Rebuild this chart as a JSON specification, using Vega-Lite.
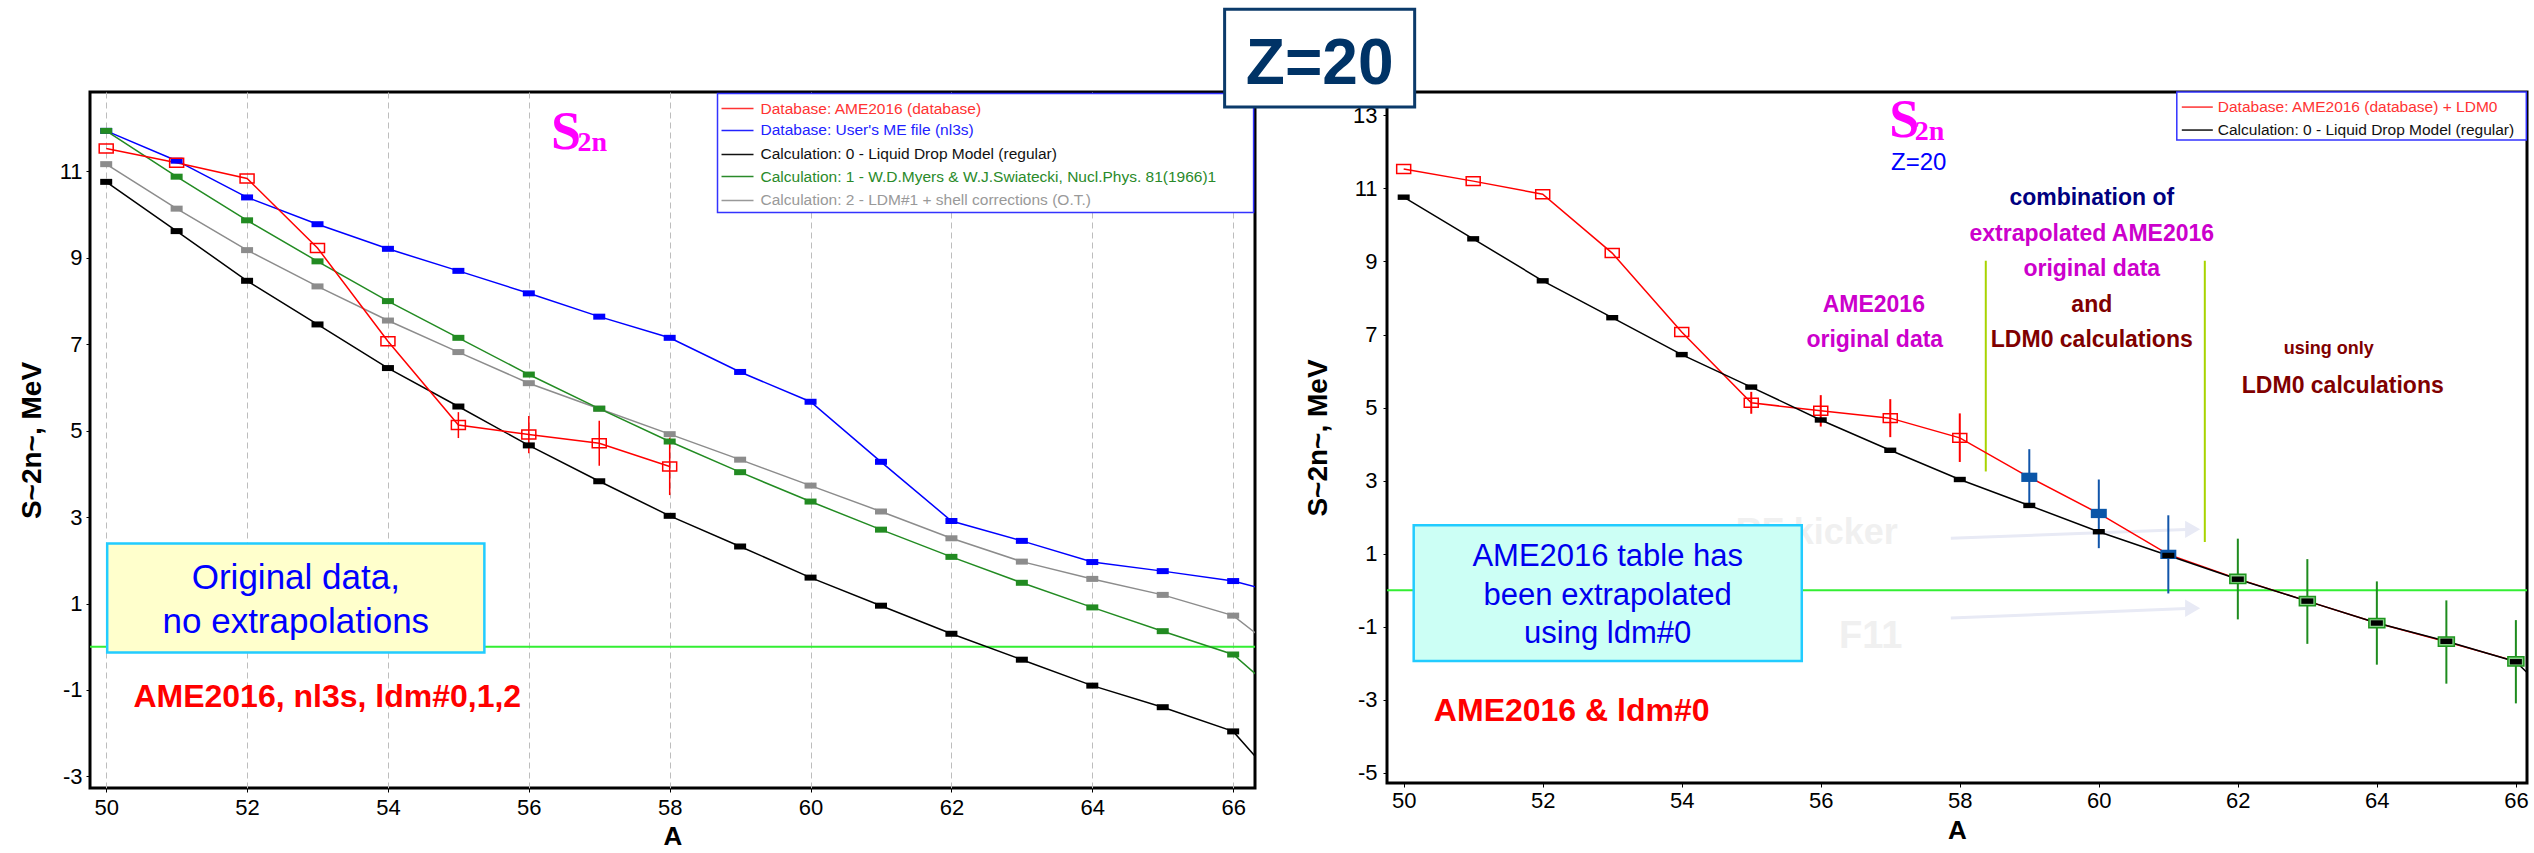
{
  "$schema": "https://vega.github.io/schema/vega-lite/v6.json",
  "background": "white",
  "padding": {"left": 16, "top": 6, "right": 0, "bottom": 0},
  "bounds": "flush",
  "spacing": 132,
  "resolve": {"scale": {"color": "independent"}},
  "config": {
    "view": {"stroke": "black", "strokeWidth": 3},
    "axis": {"domain": false, "tickColor": "black", "tickSize": 4, "labelFont": "Liberation Sans, Arial, sans-serif", "labelFontSize": 22, "labelColor": "black", "labelExpr": "'' + datum.value", "titleFont": "Liberation Sans, Arial, sans-serif", "titleFontWeight": "bold", "titleColor": "black", "gridColor": "#bdbdbd", "gridWidth": 1},
    "axisX": {"gridDash": [6, 4], "titleFontSize": 26},
    "axisY": {"gridDash": [2, 2], "titleFontSize": 28}
  },
  "datasets": {
    "ame": [
      {"A": 50, "S": 11.53, "k": "orig"},
      {"A": 51, "S": 11.20, "k": "orig"},
      {"A": 52, "S": 10.84, "k": "orig"},
      {"A": 53, "S": 9.23, "k": "orig"},
      {"A": 54, "S": 7.07, "k": "orig"},
      {"A": 55, "S": 5.13, "k": "orig", "lo": 4.83, "hi": 5.43},
      {"A": 56, "S": 4.91, "k": "orig", "lo": 4.48, "hi": 5.34},
      {"A": 57, "S": 4.71, "k": "orig", "lo": 4.19, "hi": 5.23},
      {"A": 58, "S": 4.17, "k": "orig", "lo": 3.51, "hi": 4.84},
      {"A": 59, "S": 3.09, "k": "extr", "lo": 2.33, "hi": 3.86},
      {"A": 60, "S": 2.10, "k": "extr", "lo": 1.15, "hi": 3.03},
      {"A": 61, "S": 0.98, "k": "extr", "lo": -0.09, "hi": 2.05},
      {"A": 62, "S": 0.31, "k": "ldm", "lo": -0.80, "hi": 1.41},
      {"A": 63, "S": -0.30, "k": "ldm", "lo": -1.47, "hi": 0.85},
      {"A": 64, "S": -0.90, "k": "ldm", "lo": -2.04, "hi": 0.24},
      {"A": 65, "S": -1.41, "k": "ldm", "lo": -2.56, "hi": -0.28},
      {"A": 66, "S": -1.95, "k": "ldm", "lo": -3.10, "hi": -0.82}
    ],
    "calc": [
      {"m": "nl3s", "A": 50, "S": 11.94}, {"m": "nl3s", "A": 51, "S": 11.25}, {"m": "nl3s", "A": 52, "S": 10.40}, {"m": "nl3s", "A": 53, "S": 9.78}, {"m": "nl3s", "A": 54, "S": 9.21}, {"m": "nl3s", "A": 55, "S": 8.70}, {"m": "nl3s", "A": 56, "S": 8.18}, {"m": "nl3s", "A": 57, "S": 7.64}, {"m": "nl3s", "A": 58, "S": 7.15}, {"m": "nl3s", "A": 59, "S": 6.36}, {"m": "nl3s", "A": 60, "S": 5.67}, {"m": "nl3s", "A": 61, "S": 4.28}, {"m": "nl3s", "A": 62, "S": 2.91}, {"m": "nl3s", "A": 63, "S": 2.45}, {"m": "nl3s", "A": 64, "S": 1.96}, {"m": "nl3s", "A": 65, "S": 1.75}, {"m": "nl3s", "A": 66, "S": 1.52}, {"m": "nl3s", "A": 67, "S": 1.10},
      {"m": "ldm2", "A": 50, "S": 11.17}, {"m": "ldm2", "A": 51, "S": 10.14}, {"m": "ldm2", "A": 52, "S": 9.18}, {"m": "ldm2", "A": 53, "S": 8.34}, {"m": "ldm2", "A": 54, "S": 7.55}, {"m": "ldm2", "A": 55, "S": 6.82}, {"m": "ldm2", "A": 56, "S": 6.10}, {"m": "ldm2", "A": 57, "S": 5.51}, {"m": "ldm2", "A": 58, "S": 4.92}, {"m": "ldm2", "A": 59, "S": 4.33}, {"m": "ldm2", "A": 60, "S": 3.73}, {"m": "ldm2", "A": 61, "S": 3.13}, {"m": "ldm2", "A": 62, "S": 2.51}, {"m": "ldm2", "A": 63, "S": 1.97}, {"m": "ldm2", "A": 64, "S": 1.57}, {"m": "ldm2", "A": 65, "S": 1.20}, {"m": "ldm2", "A": 66, "S": 0.72}, {"m": "ldm2", "A": 67, "S": -0.55},
      {"m": "ldm1", "A": 50, "S": 11.94}, {"m": "ldm1", "A": 51, "S": 10.88}, {"m": "ldm1", "A": 52, "S": 9.87}, {"m": "ldm1", "A": 53, "S": 8.92}, {"m": "ldm1", "A": 54, "S": 8.00}, {"m": "ldm1", "A": 55, "S": 7.15}, {"m": "ldm1", "A": 56, "S": 6.30}, {"m": "ldm1", "A": 57, "S": 5.51}, {"m": "ldm1", "A": 58, "S": 4.75}, {"m": "ldm1", "A": 59, "S": 4.04}, {"m": "ldm1", "A": 60, "S": 3.36}, {"m": "ldm1", "A": 61, "S": 2.71}, {"m": "ldm1", "A": 62, "S": 2.08}, {"m": "ldm1", "A": 63, "S": 1.48}, {"m": "ldm1", "A": 64, "S": 0.91}, {"m": "ldm1", "A": 65, "S": 0.36}, {"m": "ldm1", "A": 66, "S": -0.18}, {"m": "ldm1", "A": 67, "S": -1.6},
      {"m": "ldm0", "A": 50, "S": 10.76}, {"m": "ldm0", "A": 51, "S": 9.62}, {"m": "ldm0", "A": 52, "S": 8.47}, {"m": "ldm0", "A": 53, "S": 7.46}, {"m": "ldm0", "A": 54, "S": 6.45}, {"m": "ldm0", "A": 55, "S": 5.56}, {"m": "ldm0", "A": 56, "S": 4.66}, {"m": "ldm0", "A": 57, "S": 3.83}, {"m": "ldm0", "A": 58, "S": 3.03}, {"m": "ldm0", "A": 59, "S": 2.32}, {"m": "ldm0", "A": 60, "S": 1.60}, {"m": "ldm0", "A": 61, "S": 0.95}, {"m": "ldm0", "A": 62, "S": 0.30}, {"m": "ldm0", "A": 63, "S": -0.30}, {"m": "ldm0", "A": 64, "S": -0.90}, {"m": "ldm0", "A": 65, "S": -1.40}, {"m": "ldm0", "A": 66, "S": -1.96}, {"m": "ldm0", "A": 67, "S": -3.8}
    ]
  },
  "hconcat": [
    {
      "width": 1165,
      "height": 696,
      "data": {"values": [{}]},
      "layer": [
        {"mark": {"type": "rule", "color": "#33ee33", "strokeWidth": 2}, "encoding": {"y": {"datum": 0}}},
        {
          "data": {"name": "calc"},
          "mark": {"type": "line", "clip": true, "strokeWidth": 1.5},
          "encoding": {
            "x": {"field": "A", "type": "quantitative", "scale": {"domain": [49.77, 66.31], "nice": false, "zero": false}, "axis": {"values": [50, 52, 54, 56, 58, 60, 62, 64, 66], "title": "A", "labelPadding": 5, "titlePadding": 5}},
            "y": {"field": "S", "type": "quantitative", "scale": {"domain": [-3.27, 12.84], "nice": false, "zero": false}, "axis": {"values": [-3, -1, 1, 3, 5, 7, 9, 11], "title": "S~2n~, MeV", "labelPadding": 4, "titlePadding": 13}},
            "color": {"field": "m", "type": "nominal", "scale": {"domain": ["nl3s", "ldm0", "ldm1", "ldm2"], "range": ["#0000ff", "#000000", "#228b22", "#8c8c8c"]}, "legend": null}
          }
        },
        {
          "data": {"name": "ame"},
          "transform": [{"filter": "datum.k == 'orig'"}],
          "mark": {"type": "line", "clip": true, "strokeWidth": 1.5, "color": "#ff0000"},
          "encoding": {"x": {"field": "A", "type": "quantitative"}, "y": {"field": "S", "type": "quantitative"}}
        },
        {
          "data": {"name": "ame"},
          "transform": [{"filter": "datum.k == 'orig' && isValid(datum.lo)"}],
          "mark": {"type": "rule", "clip": true, "strokeWidth": 1.5, "color": "#ff0000"},
          "encoding": {"x": {"field": "A", "type": "quantitative"}, "y": {"field": "lo", "type": "quantitative"}, "y2": {"field": "hi"}}
        },
        {
          "data": {"name": "calc"},
          "mark": {"type": "point", "shape": "M-1,-0.5H1V0.5H-1Z", "filled": true, "size": 144, "opacity": 1, "clip": true},
          "encoding": {"x": {"field": "A", "type": "quantitative"}, "y": {"field": "S", "type": "quantitative"}, "color": {"field": "m", "type": "nominal"}}
        },
        {
          "data": {"name": "ame"},
          "transform": [{"filter": "datum.k == 'orig'"}],
          "mark": {"type": "point", "shape": "M-1,-0.64H1V0.64H-1Z", "filled": false, "size": 196, "stroke": "#ff0000", "strokeWidth": 1.5, "opacity": 1, "clip": true},
          "encoding": {"x": {"field": "A", "type": "quantitative"}, "y": {"field": "S", "type": "quantitative"}}
        },
        {"mark": {"type": "rect", "fill": "#ffffcc", "stroke": "#22ccff", "strokeWidth": 2.5}, "encoding": {"x": {"datum": 50.014}, "x2": {"datum": 55.369}, "y": {"datum": 2.389}, "y2": {"datum": -0.134}}},
        {"mark": {"type": "text", "font": "Liberation Sans, Arial, sans-serif", "fontSize": 35, "color": "#0000ff", "align": "center", "baseline": "alphabetic", "lineHeight": 44}, "encoding": {"x": {"datum": 52.692}, "y": {"datum": 1.347}, "text": {"value": ["Original data,", "no extrapolations"]}}},
        {"mark": {"type": "text", "font": "Liberation Sans, Arial, sans-serif", "fontSize": 32, "fontWeight": "bold", "color": "#ff0000", "align": "center", "baseline": "alphabetic"}, "encoding": {"x": {"datum": 53.139}, "y": {"datum": -1.384}, "text": {"value": "AME2016, nl3s, ldm#0,1,2"}}},
        {"mark": {"type": "text", "font": "Liberation Serif, Times New Roman, serif", "fontSize": 54, "fontWeight": "bold", "color": "#ff00ff", "align": "center", "baseline": "alphabetic"}, "encoding": {"x": {"datum": 56.527}, "y": {"datum": 11.532}, "text": {"value": "S"}}},
        {"mark": {"type": "text", "font": "Liberation Serif, Times New Roman, serif", "fontSize": 28, "fontWeight": "bold", "color": "#ff00ff", "align": "left", "baseline": "alphabetic"}, "encoding": {"x": {"datum": 56.69}, "y": {"datum": 11.463}, "text": {"value": "2n"}}},
        {"mark": {"type": "rect", "fill": "white", "stroke": "#3333ff", "strokeWidth": 1.5}, "encoding": {"x": {"datum": 58.679}, "x2": {"datum": 66.29}, "y": {"datum": 12.806}, "y2": {"datum": 10.051}}},
        {"mark": {"type": "rule", "color": "#ff3333", "strokeWidth": 1.5}, "encoding": {"x": {"datum": 58.736}, "x2": {"datum": 59.19}, "y": {"datum": 12.458}}},
        {"mark": {"type": "rule", "color": "#2222ff", "strokeWidth": 1.5}, "encoding": {"x": {"datum": 58.736}, "x2": {"datum": 59.19}, "y": {"datum": 11.949}}},
        {"mark": {"type": "rule", "color": "#111111", "strokeWidth": 1.5}, "encoding": {"x": {"datum": 58.736}, "x2": {"datum": 59.19}, "y": {"datum": 11.394}}},
        {"mark": {"type": "rule", "color": "#2a8a2a", "strokeWidth": 1.5}, "encoding": {"x": {"datum": 58.736}, "x2": {"datum": 59.19}, "y": {"datum": 10.884}}},
        {"mark": {"type": "rule", "color": "#999999", "strokeWidth": 1.5}, "encoding": {"x": {"datum": 58.736}, "x2": {"datum": 59.19}, "y": {"datum": 10.329}}},
        {"mark": {"type": "text", "font": "Liberation Sans, Arial, sans-serif", "fontSize": 15.5, "color": "#ff3333", "align": "left", "baseline": "middle"}, "encoding": {"x": {"datum": 59.29}, "y": {"datum": 12.458}, "text": {"value": "Database:  AME2016 (database)"}}},
        {"mark": {"type": "text", "font": "Liberation Sans, Arial, sans-serif", "fontSize": 15.5, "color": "#2222ff", "align": "left", "baseline": "middle"}, "encoding": {"x": {"datum": 59.29}, "y": {"datum": 11.949}, "text": {"value": "Database:  User's ME file (nl3s)"}}},
        {"mark": {"type": "text", "font": "Liberation Sans, Arial, sans-serif", "fontSize": 15.5, "color": "#111111", "align": "left", "baseline": "middle"}, "encoding": {"x": {"datum": 59.29}, "y": {"datum": 11.394}, "text": {"value": "Calculation: 0 - Liquid Drop Model (regular)"}}},
        {"mark": {"type": "text", "font": "Liberation Sans, Arial, sans-serif", "fontSize": 15.5, "color": "#2a8a2a", "align": "left", "baseline": "middle"}, "encoding": {"x": {"datum": 59.29}, "y": {"datum": 10.884}, "text": {"value": "Calculation: 1 - W.D.Myers & W.J.Swiatecki, Nucl.Phys. 81(1966)1"}}},
        {"mark": {"type": "text", "font": "Liberation Sans, Arial, sans-serif", "fontSize": 15.5, "color": "#999999", "align": "left", "baseline": "middle"}, "encoding": {"x": {"datum": 59.29}, "y": {"datum": 10.329}, "text": {"value": "Calculation: 2 - LDM#1 + shell corrections (O.T.)"}}}
      ]
    },
    {
      "width": 1140,
      "height": 691,
      "data": {"values": [{}]},
      "layer": [
        {"mark": {"type": "rule", "color": "#e8eaf5", "strokeWidth": 3}, "encoding": {"x": {"datum": 57.871}, "x2": {"datum": 61.35}, "y": {"datum": 1.424}, "y2": {"datum": 1.665}}},
        {"mark": {"type": "rule", "color": "#e8eaf5", "strokeWidth": 3}, "encoding": {"x": {"datum": 57.871}, "x2": {"datum": 61.35}, "y": {"datum": -0.762}, "y2": {"datum": -0.495}}},
        {"mark": {"type": "point", "shape": "triangle-right", "filled": true, "size": 300, "color": "#e8eaf5", "opacity": 1}, "encoding": {"x": {"datum": 61.35}, "y": {"datum": 1.665}}},
        {"mark": {"type": "point", "shape": "triangle-right", "filled": true, "size": 300, "color": "#e8eaf5", "opacity": 1}, "encoding": {"x": {"datum": 61.35}, "y": {"datum": -0.495}}},
        {"mark": {"type": "text", "font": "Liberation Sans, Arial, sans-serif", "fontSize": 36, "fontWeight": "bold", "color": "#f0f0f0", "align": "center", "baseline": "alphabetic"}, "encoding": {"x": {"datum": 55.942}, "y": {"datum": 1.26}, "text": {"value": "RF kicker"}}},
        {"mark": {"type": "text", "font": "Liberation Sans, Arial, sans-serif", "fontSize": 38, "fontWeight": "bold", "color": "#f0f0f0", "align": "center", "baseline": "alphabetic"}, "encoding": {"x": {"datum": 56.719}, "y": {"datum": -1.58}, "text": {"value": "F11"}}},
        {"mark": {"type": "rule", "color": "#33ee33", "strokeWidth": 2}, "encoding": {"y": {"datum": 0}}},
        {"mark": {"type": "rule", "color": "#a8d400", "strokeWidth": 2}, "encoding": {"x": {"datum": 58.374}, "y": {"datum": 9.02}, "y2": {"datum": 3.25}}},
        {"mark": {"type": "rule", "color": "#a8d400", "strokeWidth": 2}, "encoding": {"x": {"datum": 61.525}, "y": {"datum": 9.02}, "y2": {"datum": 1.32}}},
        {
          "data": {"name": "ame"},
          "mark": {"type": "line", "clip": true, "strokeWidth": 1.5, "color": "#ff0000"},
          "encoding": {
            "x": {"field": "A", "type": "quantitative", "scale": {"domain": [49.76, 66.16], "nice": false, "zero": false}, "axis": {"values": [50, 52, 54, 56, 58, 60, 62, 64, 66], "title": "A", "labelPadding": 3, "titlePadding": 6}},
            "y": {"field": "S", "type": "quantitative", "scale": {"domain": [-5.28, 13.64], "nice": false, "zero": false}, "axis": {"values": [-5, -3, -1, 1, 3, 5, 7, 9, 11, 13], "title": "S~2n~, MeV", "labelPadding": 6, "titlePadding": 20}}
          }
        },
        {
          "data": {"name": "calc"},
          "transform": [{"filter": "datum.m == 'ldm0'"}],
          "mark": {"type": "line", "clip": true, "strokeWidth": 1.5, "color": "#000000"},
          "encoding": {"x": {"field": "A", "type": "quantitative"}, "y": {"field": "S", "type": "quantitative"}}
        },
        {
          "data": {"name": "ame"},
          "transform": [{"filter": "isValid(datum.lo)"}],
          "mark": {"type": "rule", "clip": true, "strokeWidth": 2},
          "encoding": {"x": {"field": "A", "type": "quantitative"}, "y": {"field": "lo", "type": "quantitative"}, "y2": {"field": "hi"}, "color": {"field": "k", "type": "nominal", "scale": {"domain": ["orig", "extr", "ldm"], "range": ["#ff0000", "#1155aa", "#1e8c1e"]}, "legend": null}}
        },
        {
          "data": {"name": "ame"},
          "transform": [{"filter": "datum.k == 'orig'"}],
          "mark": {"type": "point", "shape": "M-1,-0.64H1V0.64H-1Z", "filled": false, "size": 196, "stroke": "#ff0000", "strokeWidth": 1.5, "opacity": 1, "clip": true},
          "encoding": {"x": {"field": "A", "type": "quantitative"}, "y": {"field": "S", "type": "quantitative"}}
        },
        {
          "data": {"name": "ame"},
          "transform": [{"filter": "datum.k == 'extr'"}],
          "mark": {"type": "point", "shape": "M-1,-0.58H1V0.58H-1Z", "filled": true, "size": 256, "color": "#0b56a8", "opacity": 1, "clip": true},
          "encoding": {"x": {"field": "A", "type": "quantitative"}, "y": {"field": "S", "type": "quantitative"}}
        },
        {
          "data": {"name": "ame"},
          "transform": [{"filter": "datum.k == 'ldm'"}],
          "mark": {"type": "point", "shape": "M-1,-0.58H1V0.58H-1Z", "filled": true, "size": 256, "fill": "#86cf86", "stroke": "#1e961e", "strokeWidth": 1.5, "opacity": 1, "clip": true},
          "encoding": {"x": {"field": "A", "type": "quantitative"}, "y": {"field": "S", "type": "quantitative"}}
        },
        {
          "data": {"name": "calc"},
          "transform": [{"filter": "datum.m == 'ldm0'"}],
          "mark": {"type": "point", "shape": "M-1,-0.45H1V0.45H-1Z", "filled": true, "size": 144, "color": "#000000", "opacity": 1, "clip": true},
          "encoding": {"x": {"field": "A", "type": "quantitative"}, "y": {"field": "S", "type": "quantitative"}}
        },
        {"mark": {"type": "text", "font": "Liberation Sans, Arial, sans-serif", "fontSize": 23, "fontWeight": "bold", "color": "#000080", "align": "center", "baseline": "middle"}, "encoding": {"x": {"datum": 59.899}, "y": {"datum": 10.74}, "text": {"value": "combination of"}}},
        {"mark": {"type": "text", "font": "Liberation Sans, Arial, sans-serif", "fontSize": 23, "fontWeight": "bold", "color": "#cc00cc", "align": "center", "baseline": "middle"}, "encoding": {"x": {"datum": 59.899}, "y": {"datum": 9.757}, "text": {"value": "extrapolated AME2016"}}},
        {"mark": {"type": "text", "font": "Liberation Sans, Arial, sans-serif", "fontSize": 23, "fontWeight": "bold", "color": "#cc00cc", "align": "center", "baseline": "middle"}, "encoding": {"x": {"datum": 59.899}, "y": {"datum": 8.80}, "text": {"value": "original data"}}},
        {"mark": {"type": "text", "font": "Liberation Sans, Arial, sans-serif", "fontSize": 23, "fontWeight": "bold", "color": "#800000", "align": "center", "baseline": "middle"}, "encoding": {"x": {"datum": 59.899}, "y": {"datum": 7.817}, "text": {"value": "and"}}},
        {"mark": {"type": "text", "font": "Liberation Sans, Arial, sans-serif", "fontSize": 23, "fontWeight": "bold", "color": "#800000", "align": "center", "baseline": "middle"}, "encoding": {"x": {"datum": 59.899}, "y": {"datum": 6.86}, "text": {"value": "LDM0 calculations"}}},
        {"mark": {"type": "text", "font": "Liberation Sans, Arial, sans-serif", "fontSize": 23, "fontWeight": "bold", "color": "#cc00cc", "align": "center", "baseline": "middle"}, "encoding": {"x": {"datum": 56.763}, "y": {"datum": 7.817}, "text": {"value": "AME2016"}}},
        {"mark": {"type": "text", "font": "Liberation Sans, Arial, sans-serif", "fontSize": 23, "fontWeight": "bold", "color": "#cc00cc", "align": "center", "baseline": "middle"}, "encoding": {"x": {"datum": 56.777}, "y": {"datum": 6.86}, "text": {"value": "original data"}}},
        {"mark": {"type": "text", "font": "Liberation Sans, Arial, sans-serif", "fontSize": 18, "fontWeight": "bold", "color": "#800000", "align": "center", "baseline": "middle"}, "encoding": {"x": {"datum": 63.309}, "y": {"datum": 6.615}, "text": {"value": "using only"}}},
        {"mark": {"type": "text", "font": "Liberation Sans, Arial, sans-serif", "fontSize": 23, "fontWeight": "bold", "color": "#800000", "align": "center", "baseline": "middle"}, "encoding": {"x": {"datum": 63.51}, "y": {"datum": 5.577}, "text": {"value": "LDM0 calculations"}}},
        {"mark": {"type": "rect", "fill": "#ccfff5", "stroke": "#22ccff", "strokeWidth": 2.5}, "encoding": {"x": {"datum": 50.144}, "x2": {"datum": 55.727}, "y": {"datum": 1.779}, "y2": {"datum": -1.937}}},
        {"mark": {"type": "text", "font": "Liberation Sans, Arial, sans-serif", "fontSize": 31, "color": "#0000ee", "align": "center", "baseline": "alphabetic", "lineHeight": 38.5}, "encoding": {"x": {"datum": 52.935}, "y": {"datum": 0.659}, "text": {"value": ["AME2016 table has", "been  extrapolated", "using ldm#0"]}}},
        {"mark": {"type": "text", "font": "Liberation Sans, Arial, sans-serif", "fontSize": 32, "fontWeight": "bold", "color": "#ff0000", "align": "center", "baseline": "alphabetic"}, "encoding": {"x": {"datum": 52.417}, "y": {"datum": -3.577}, "text": {"value": "AME2016 & ldm#0"}}},
        {"mark": {"type": "text", "font": "Liberation Serif, Times New Roman, serif", "fontSize": 54, "fontWeight": "bold", "color": "#ff00ff", "align": "center", "baseline": "alphabetic"}, "encoding": {"x": {"datum": 57.2}, "y": {"datum": 12.41}, "text": {"value": "S"}}},
        {"mark": {"type": "text", "font": "Liberation Serif, Times New Roman, serif", "fontSize": 28, "fontWeight": "bold", "color": "#ff00ff", "align": "left", "baseline": "alphabetic"}, "encoding": {"x": {"datum": 57.353}, "y": {"datum": 12.325}, "text": {"value": "2n"}}},
        {"mark": {"type": "text", "font": "Liberation Sans, Arial, sans-serif", "fontSize": 24, "color": "#0000ff", "align": "center", "baseline": "middle"}, "encoding": {"x": {"datum": 57.41}, "y": {"datum": 11.697}, "text": {"value": "Z=20"}}},
        {"mark": {"type": "rect", "fill": "white", "stroke": "#3333ff", "strokeWidth": 1.5}, "encoding": {"x": {"datum": 61.122}, "x2": {"datum": 66.15}, "y": {"datum": 13.637}, "y2": {"datum": 12.325}}},
        {"mark": {"type": "rule", "color": "#ff3333", "strokeWidth": 1.5}, "encoding": {"x": {"datum": 61.194}, "x2": {"datum": 61.64}, "y": {"datum": 13.227}}},
        {"mark": {"type": "rule", "color": "#111111", "strokeWidth": 1.5}, "encoding": {"x": {"datum": 61.194}, "x2": {"datum": 61.64}, "y": {"datum": 12.598}}},
        {"mark": {"type": "text", "font": "Liberation Sans, Arial, sans-serif", "fontSize": 15.5, "color": "#ff3333", "align": "left", "baseline": "middle"}, "encoding": {"x": {"datum": 61.712}, "y": {"datum": 13.227}, "text": {"value": "Database:  AME2016 (database) + LDM0"}}},
        {"mark": {"type": "text", "font": "Liberation Sans, Arial, sans-serif", "fontSize": 15.5, "color": "#111111", "align": "left", "baseline": "middle"}, "encoding": {"x": {"datum": 61.712}, "y": {"datum": 12.598}, "text": {"value": "Calculation: 0 - Liquid Drop Model (regular)"}}},
        {"mark": {"type": "rect", "fill": "white", "stroke": "#0b3a6a", "strokeWidth": 3}, "encoding": {"x": {"datum": 47.424}, "x2": {"datum": 50.158}, "y": {"datum": 15.904}, "y2": {"datum": 13.227}}},
        {"mark": {"type": "text", "font": "Liberation Sans, Arial, sans-serif", "fontSize": 64, "fontWeight": "bold", "color": "#003366", "align": "center", "baseline": "alphabetic"}, "encoding": {"x": {"datum": 48.791}, "y": {"datum": 13.863}, "text": {"value": "Z=20"}}}
      ]
    }
  ]
}
